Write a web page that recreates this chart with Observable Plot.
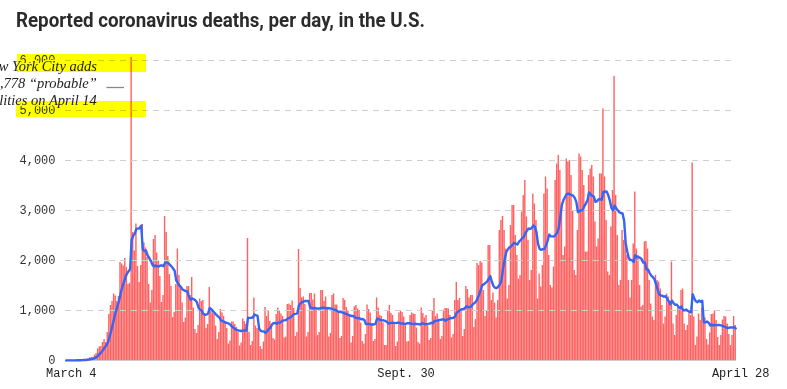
<!DOCTYPE html>
<html><head><meta charset="utf-8">
<script src="https://cdn.jsdelivr.net/npm/d3@7"></script>
<script src="https://cdn.jsdelivr.net/npm/@observablehq/plot@0.6"></script>
<style>
body{margin:0;background:#fff;}
#wrap{position:relative;width:787px;height:389px;overflow:hidden;}
#title{height:40px;}
.hl{position:absolute;background:#ffff00;mix-blend-mode:multiply;pointer-events:none;}
</style></head><body>
<div id="wrap">
<div id="title"><svg width="787" height="40"><text x="16" y="26.5" textLength="409" lengthAdjust="spacingAndGlyphs" font-family="Roboto, 'Liberation Sans', sans-serif" font-weight="700" font-size="21" fill="#2b2b2b">Reported coronavirus deaths, per day, in the U.S.</text></svg></div>
<div id="chart"></div>
<div class="hl" style="left:17px;top:54px;width:129px;height:18px"></div>
<div class="hl" style="left:16px;top:101px;width:130px;height:16px"></div>
</div>
<script>
const startDate = "2020-03-04";
const endDate = "2021-04-28";
// daily reported deaths, one value per day from March 4, 2020 (weeks start on Wednesday)
const deaths = [
1,2,3,4,2,4,5,
8,9,12,10,13,20,26,
35,52,60,65,110,140,230,
270,280,360,420,360,560,920,
1100,1180,1330,1290,1180,1280,1960,
1930,1890,2040,1860,1520,1540,6060,
2560,2190,2730,1880,1560,1900,2720,
2350,2250,2060,1520,1150,1400,2420,
2500,2150,2000,1680,1160,1300,2880,
2560,2080,1720,1480,860,960,1520,
2230,1700,1500,1150,760,850,1480,
1480,1300,1660,1050,620,540,700,
1230,1180,1200,930,640,720,1460,
1040,950,920,690,420,560,1020,
950,880,780,640,330,390,770,
770,720,660,570,290,350,830,
780,720,2440,560,300,380,1250,
690,640,620,280,220,370,1060,
880,980,780,720,440,410,920,
1050,980,930,880,450,470,1120,
1130,1100,1190,1040,480,560,2220,
1440,1250,1270,1120,470,560,1340,
1340,1210,1330,1010,500,560,1400,
1400,1180,1270,1040,470,540,1300,
1330,1110,1110,960,440,480,1240,
1200,1060,990,900,350,480,1070,
1100,1030,1000,750,380,330,520,
1110,1020,950,740,380,420,1250,
1050,900,880,750,300,300,1000,
1100,940,900,720,280,370,950,
1000,960,870,700,370,380,900,
950,930,920,650,360,330,1050,
940,850,900,690,400,440,1000,
1240,880,930,800,420,480,1010,
1040,1040,1030,900,450,520,1200,
1560,1200,1240,1000,480,620,1480,
1420,1250,1300,1300,660,820,1940,
1900,1980,1950,1400,880,1000,2300,
2300,1200,1350,1150,850,1200,2600,
2800,2880,2600,2230,1230,1500,2700,
3100,3100,2500,2100,1630,1700,2970,
3300,3600,2870,2400,1600,1800,3330,
3130,2800,1230,1730,1470,1900,3330,
3670,3430,2100,1500,1450,1870,3600,
3930,4100,3800,3100,2100,2270,4030,
3970,4000,3700,3000,1800,1700,2600,
4130,4070,3800,3500,2170,2170,3700,
3830,3900,3670,2770,2270,2430,3730,
3730,5030,3670,2800,1770,1700,2670,
3400,5680,3300,2500,1500,1600,2600,
2400,2500,2100,1600,1250,1600,2330,
3370,2230,2100,1500,1070,1100,2370,
2380,2230,1600,1130,870,800,1700,
1600,1570,1430,1100,730,870,1330,
1270,1130,1970,730,500,900,1070,
1000,1400,1430,730,600,700,970,
900,3950,870,300,470,930,800,
1050,930,850,420,310,550,920,
930,1000,800,460,300,500,810,
880,870,730,520,300,500,880,
700
];
const yTicks = [0, 1000, 2000, 3000, 4000, 5000, 6000];
const xTickDates = ["2020-03-04", "2020-09-30", "2021-04-28"];
const xTickLabels = ["March 4", "Sept. 30", "April 28"];
const noteDate = "2020-04-14";
const noteLines = ["New York City adds", "3,778 \u201cprobable\u201d", "fatalities on April 14"];
const noteValue = 5560;
const leaderValue = 5460;

const utc = s => new Date(s + "T00:00:00Z");
const start = utc(startDate);
const data = deaths.map((v, i) => ({date: d3.utcDay.offset(start, i), deaths: v}));
const labelOf = new Map(xTickDates.map((s, i) => [+d3.utcHour.offset(utc(s), 12), xTickLabels[i]]));
const tickDates = xTickDates.map(s => d3.utcHour.offset(utc(s), 12));
const note = utc(noteDate);

const chart = Plot.plot({
  width: 787,
  height: 349,
  marginLeft: 65,
  marginRight: 51,
  marginTop: 20,
  marginBottom: 29,
  style: {fontFamily: "'Liberation Mono', monospace", fontSize: "12px", color: "#333", background: "#fff"},
  x: {type: "utc", domain: [start, d3.utcDay.offset(utc(endDate), 1)], axis: null},
  y: {domain: [0, 6000], axis: null},
  marks: [
    Plot.rectY(data, {x1: "date", x2: d => d3.utcDay.offset(d.date, 1), y: "deaths", fill: "#ff2e2e", fillOpacity: 0.76, insetLeft: 0.1, insetRight: 0.1}),
    Plot.ruleY(yTicks.filter(v => v > 0), {stroke: "#cfcfcf", strokeDasharray: "6,5", strokeWidth: 1}),
    Plot.ruleY([0], {stroke: "#cccccc", strokeWidth: 1.2}),
    Plot.lineY(data, Plot.windowY({k: 7, anchor: "end", reduce: "mean"}, {x: d => d3.utcHour.offset(d.date, 12), y: "deaths", stroke: "#3565f5", strokeWidth: 2.4, curve: "linear"})),
    Plot.axisY(yTicks, {tickSize: 0, tickPadding: 10, tickFormat: d3.format(","), fill: "#333", label: null}),
    Plot.axisX(tickDates, {tickSize: 0, tickPadding: 8, tickFormat: d => labelOf.get(+d), dx: 5, fill: "#222", label: null}),
    Plot.text([noteLines.join("\n")], {x: () => note, y: () => noteValue, text: d => d, textAnchor: "end", dx: -34, lineHeight: 1.2, fontFamily: "'Liberation Serif', 'DejaVu Serif', serif", fontStyle: "italic", fontSize: 14.5, fill: "#222", stroke: "#fff", strokeWidth: 3, paintOrder: "stroke"}),
    Plot.ruleY([leaderValue], {x1: () => d3.utcDay.offset(note, -15), x2: () => d3.utcDay.offset(note, -4), stroke: "#888", strokeWidth: 1.3})
  ]
});
document.getElementById("chart").appendChild(chart);
</script>
</body></html>
